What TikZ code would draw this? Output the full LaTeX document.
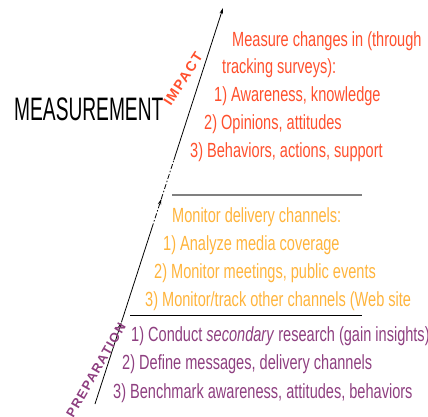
\documentclass[tikz,border=0pt]{standalone}
\usepackage{fontspec}
\usetikzlibrary{arrows.meta,calc}
\newfontfamily\nf[FakeStretch=0.71]{Liberation Sans}
\newfontfamily\mf[FakeStretch=0.59]{Liberation Sans}
\newfontfamily\spf[LetterSpace=10]{Liberation Sans}
\definecolor{redt}{RGB}{255,80,45}
\definecolor{orat}{RGB}{255,180,60}
\definecolor{purt}{RGB}{142,63,128}
\begin{document}
\begin{tikzpicture}[x=1pt,y=-1pt,
  txt/.style={anchor=base west, inner sep=0pt, font=\nf\fontsize{20.5}{24}\selectfont},
  rtxt/.style={txt, text=redt},
  otxt/.style={txt, text=orat},
  ptxt/.style={txt, text=purt},
  arr/.style={-{Stealth[length=6pt,width=3.5pt]}},
  axis/.style={line width=0.8pt, black},
  dsh/.style={dash pattern=on 5pt off 2pt on 1.5pt off 2pt}
]
\useasboundingbox (0,0) rectangle (428,416);

% title
\node[anchor=base west, inner sep=0pt, font=\mf\fontsize{32.5}{34}\selectfont] (meas) at (14,120) {MEASUREMENT};

% arrow axis
\coordinate (bot) at (95,404);
\coordinate (top) at (223,8);
\coordinate (a1) at ($(bot)!0.207!(top)$);
\coordinate (d1) at ($(bot)!0.444!(top)$);
\coordinate (a2) at ($(bot)!0.518!(top)$);
\coordinate (d2) at ($(bot)!0.616!(top)$);
\draw[axis, arr] (bot) -- (a1);
\draw[axis] (a1) -- (d1);
\draw[axis, dsh, arr] (d1) -- (a2);
\draw[axis, dsh] (a2) -- (d2);
\draw[axis, arr] (d2) -- (top);

% rotated labels
\node[rotate=57, inner sep=0pt, text=redt, font=\spf\bfseries\fontsize{14}{14}\selectfont] (impact) at (183,79) {IMPACT};
\node[rotate=60, inner sep=0pt, text=purt, font=\spf\bfseries\fontsize{13}{13}\selectfont] (prep) at (96,370) {PREPARATION};

% separator lines
\coordinate (g1) at (172,195);
\coordinate (g2) at (362,195);
\draw[gray, line width=1.2pt] (g1) -- (g2);
\coordinate (b1) at (130,315);
\coordinate (b2) at (362,315);
\draw[black, line width=0.9pt] (b1) -- (b2);

% impact text
\node[rtxt] (r1) at (232,46.7) {Measure changes in (through};
\node[rtxt] (r2) at (222,73.5) {tracking surveys):};
\node[rtxt] (r3) at (214,101.7) {1) Awareness, knowledge};
\node[rtxt] (r4) at (204,129.5) {2) Opinions, attitudes};
\node[rtxt] (r5) at (190,157) {3) Behaviors, actions, support};

% monitoring text
\node[otxt] (o1) at (172,222.3) {Monitor delivery channels:};
\node[otxt] (o2) at (163,250.5) {1) Analyze media coverage};
\node[otxt] (o3) at (154,278) {2) Monitor meetings, public events};
\node[otxt] (o4) at (145,306) {3) Monitor/track other channels (Web site};

% preparation text
\node[ptxt] (p1) at (131,341.7) {1) Conduct \textit{secondary} research (gain insights)};
\node[ptxt] (p2) at (122,369.5) {2) Define messages, delivery channels};
\node[ptxt] (p3) at (113,398) {3) Benchmark awareness, attitudes, behaviors};
\end{tikzpicture}
\end{document}
